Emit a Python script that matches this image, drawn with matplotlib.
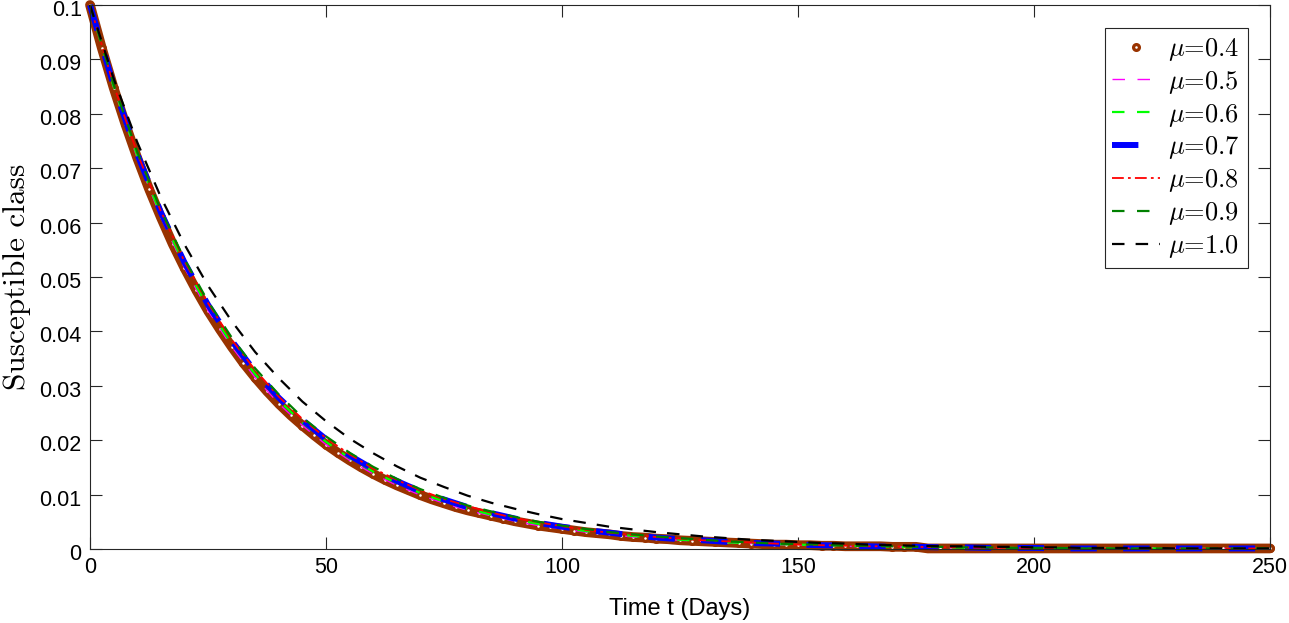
import numpy as np
import matplotlib
matplotlib.use("Agg")
import matplotlib.pyplot as plt
import matplotlib.transforms as mtransforms

plt.rcParams['font.family'] = ['Liberation Sans', 'DejaVu Sans']
plt.rcParams['mathtext.fontset'] = 'cm'
plt.rcParams['lines.scale_dashes'] = False

# time grids (days)
t_fine = np.arange(0, 250.1, 2.5)
t = np.arange(0, 250.1, 5)

# mu = 0.4 (markers, every 2.5 days)
s_04 = [0.1000, 0.0921, 0.0848, 0.0781, 0.0719, 0.0662, 0.0610, 0.0561, 0.0517, 0.0476,
        0.0438, 0.0404, 0.0372, 0.0342, 0.0315, 0.0290, 0.0267, 0.0246, 0.0227, 0.0209,
        0.0192, 0.0177, 0.0163, 0.0150, 0.0138, 0.0127, 0.0117, 0.0108, 0.0099, 0.0091,
        0.0084, 0.0077, 0.0071, 0.0066, 0.0061, 0.0056, 0.0051, 0.0047, 0.0043, 0.0040,
        0.0037, 0.0034, 0.0031, 0.0029, 0.0027, 0.0024, 0.0022, 0.0021, 0.0019, 0.0018,
        0.0016, 0.0015, 0.0014, 0.0013, 0.0012, 0.0011, 0.0010, 0.0009, 0.0008, 0.0008,
        0.0007, 0.0007, 0.0006, 0.0006, 0.0005, 0.0005, 0.0005, 0.0005, 0.0004, 0.0004,
        0.0004, 0.0001, 0.0001, 0.0001, 0.0001, 0.0001, 0.0001, 0.0001, 0.0001, 0.0001,
        0.0001, 0.0001, 0.0001, 0.0001, 0.0001, 0.0001, 0.0001, 0.0001, 0.0001, 0.0001,
        0.0001, 0.0001, 0.0001, 0.0001, 0.0001, 0.0001, 0.0001, 0.0001, 0.0001, 0.0001,
        0.0001]

# other orders, every 5 days
s_05 = [0.1000, 0.0848, 0.0719, 0.0610, 0.0517, 0.0438, 0.0372, 0.0315, 0.0267, 0.0227,
        0.0192, 0.0163, 0.0138, 0.0117, 0.0099, 0.0084, 0.0071, 0.0061, 0.0051, 0.0043,
        0.0037, 0.0031, 0.0027, 0.0022, 0.0019, 0.0016, 0.0014, 0.0012, 0.0010, 0.0008,
        0.0007, 0.0006, 0.0005, 0.0004, 0.0004, 0.0003, 0.0002, 0.0002, 0.0001, 0.0001,
        0.0001, 0.0001, 0.0001, 0.0001, 0.0001, 0.0001, 0.0001, 0.0001, 0.0001, 0.0001,
        0.0001]
s_06 = [0.1000, 0.0850, 0.0723, 0.0614, 0.0522, 0.0444, 0.0377, 0.0321, 0.0273, 0.0232,
        0.0197, 0.0167, 0.0142, 0.0121, 0.0103, 0.0087, 0.0074, 0.0063, 0.0054, 0.0046,
        0.0039, 0.0033, 0.0028, 0.0024, 0.0020, 0.0017, 0.0015, 0.0012, 0.0011, 0.0009,
        0.0008, 0.0007, 0.0006, 0.0005, 0.0004, 0.0003, 0.0003, 0.0002, 0.0002, 0.0002,
        0.0001, 0.0001, 0.0001, 0.0001, 0.0001, 0.0001, 0.0001, 0.0001, 0.0001, 0.0001,
        0.0001]
s_07 = [0.1000, 0.0852, 0.0726, 0.0619, 0.0527, 0.0449, 0.0383, 0.0326, 0.0278, 0.0237,
        0.0202, 0.0172, 0.0147, 0.0125, 0.0106, 0.0091, 0.0077, 0.0066, 0.0056, 0.0048,
        0.0041, 0.0035, 0.0030, 0.0025, 0.0021, 0.0018, 0.0016, 0.0013, 0.0011, 0.0010,
        0.0008, 0.0007, 0.0006, 0.0005, 0.0004, 0.0004, 0.0003, 0.0003, 0.0002, 0.0002,
        0.0002, 0.0001, 0.0001, 0.0001, 0.0001, 0.0001, 0.0001, 0.0001, 0.0001, 0.0001,
        0.0001]
s_08 = [0.1000, 0.0853, 0.0728, 0.0621, 0.0529, 0.0452, 0.0385, 0.0329, 0.0280, 0.0239,
        0.0204, 0.0174, 0.0148, 0.0127, 0.0108, 0.0092, 0.0079, 0.0067, 0.0057, 0.0049,
        0.0042, 0.0035, 0.0030, 0.0026, 0.0022, 0.0019, 0.0016, 0.0014, 0.0012, 0.0010,
        0.0008, 0.0007, 0.0006, 0.0005, 0.0005, 0.0004, 0.0003, 0.0003, 0.0002, 0.0002,
        0.0002, 0.0001, 0.0001, 0.0001, 0.0001, 0.0001, 0.0001, 0.0001, 0.0001, 0.0001,
        0.0001]
s_09 = [0.1000, 0.0854, 0.0730, 0.0623, 0.0533, 0.0455, 0.0389, 0.0332, 0.0284, 0.0242,
        0.0207, 0.0177, 0.0151, 0.0129, 0.0110, 0.0094, 0.0080, 0.0069, 0.0059, 0.0050,
        0.0043, 0.0037, 0.0031, 0.0027, 0.0023, 0.0020, 0.0017, 0.0014, 0.0012, 0.0010,
        0.0009, 0.0008, 0.0006, 0.0006, 0.0005, 0.0004, 0.0004, 0.0003, 0.0003, 0.0002,
        0.0002, 0.0002, 0.0001, 0.0001, 0.0001, 0.0001, 0.0001, 0.0001, 0.0001, 0.0001,
        0.0001]
s_10 = [0.1000, 0.0865, 0.0748, 0.0647, 0.0560, 0.0484, 0.0419, 0.0362, 0.0314, 0.0271,
        0.0235, 0.0203, 0.0176, 0.0152, 0.0131, 0.0114, 0.0098, 0.0085, 0.0074, 0.0064,
        0.0055, 0.0048, 0.0041, 0.0036, 0.0031, 0.0027, 0.0023, 0.0020, 0.0017, 0.0015,
        0.0013, 0.0011, 0.0010, 0.0008, 0.0007, 0.0006, 0.0005, 0.0005, 0.0004, 0.0004,
        0.0003, 0.0003, 0.0002, 0.0002, 0.0002, 0.0002, 0.0001, 0.0001, 0.0001, 0.0001,
        0.0001]

labels = ['0.4', '0.5', '0.6', '0.7', '0.8', '0.9', '1.0']
xticks = [0, 50, 100, 150, 200, 250]
yticks = [0, 0.01, 0.02, 0.03, 0.04, 0.05, 0.06, 0.07, 0.08, 0.09, 0.1]

brown = '#993300'

fig = plt.figure(figsize=(12.89, 6.23), dpi=100)
ax = fig.add_axes([90/1289, 1 - 549/623, (1270 - 90)/1289, (549 - 5)/623])

def lab(m):
    return r'$\mu$=' + m

# dense marker trail: a thick brown band under the circles
ax.plot(t_fine, s_04, color=brown, lw=7.0, solid_capstyle='round',
        solid_joinstyle='round', clip_on=False, label='_nolegend_')
ax.plot(t_fine, s_04, linestyle='none', marker='o', ms=4.2, mew=2.3,
        mec=brown, mfc='white', clip_on=False, label=lab(labels[0]))
ax.plot(t, s_05, color='#ff00ff', lw=1.0, dashes=(9, 9), clip_on=False, label=lab(labels[1]))
ax.plot(t, s_06, color='#00ff00', lw=1.6, dashes=(9, 9), clip_on=False, label=lab(labels[2]))
ax.plot(t, s_07, color='#0000ff', lw=4.3, dashes=(19, 19), clip_on=False, label=lab(labels[3]))
ax.plot(t, s_08, color='#ff0000', lw=1.3, dashes=(8.5, 3, 2, 3), clip_on=False, label=lab(labels[4]))
ax.plot(t, s_09, color='#008000', lw=1.6, dashes=(9, 9), clip_on=False, label=lab(labels[5]))
ax.plot(t, s_10, color='black', lw=1.6, dashes=(9, 8), clip_on=False, label=lab(labels[6]))

ax.set_xlim(0, 250)
ax.set_ylim(0, 0.1)
ax.set_xticks(xticks)
ax.set_yticks(yticks)
ax.set_yticklabels(['%g' % v for v in yticks])
ax.tick_params(direction='in', length=8.5, width=0.8, labelsize=15.5, pad=6,
               top=True, right=True, colors='#262626', labelcolor='black')
for sp in ax.spines.values():
    sp.set_color('#262626')
    sp.set_linewidth(0.8)

# MATLAB puts the y tick labels a touch below the ticks
shift = mtransforms.ScaledTranslation(0, -3/100, fig.dpi_scale_trans)
for lb in ax.get_yticklabels():
    lb.set_transform(lb.get_transform() + shift)

ax.set_xlabel('Time t (Days)', fontsize=17, labelpad=14)
ax.set_ylabel('Susceptible class', fontsize=22.5, family='cmr10', labelpad=6)

leg = ax.legend(loc='upper right', bbox_to_anchor=(1248/1289, 1 - 28/623),
                bbox_transform=fig.transFigure, borderaxespad=0,
                prop={'family': 'cmr10', 'size': 19}, fancybox=False,
                framealpha=1, edgecolor='#262626', numpoints=1,
                handlelength=1.82, handletextpad=0.3, labelspacing=0.22,
                borderpad=0.3)
leg.get_frame().set_linewidth(0.8)

fig.savefig('out.png', dpi=100)
